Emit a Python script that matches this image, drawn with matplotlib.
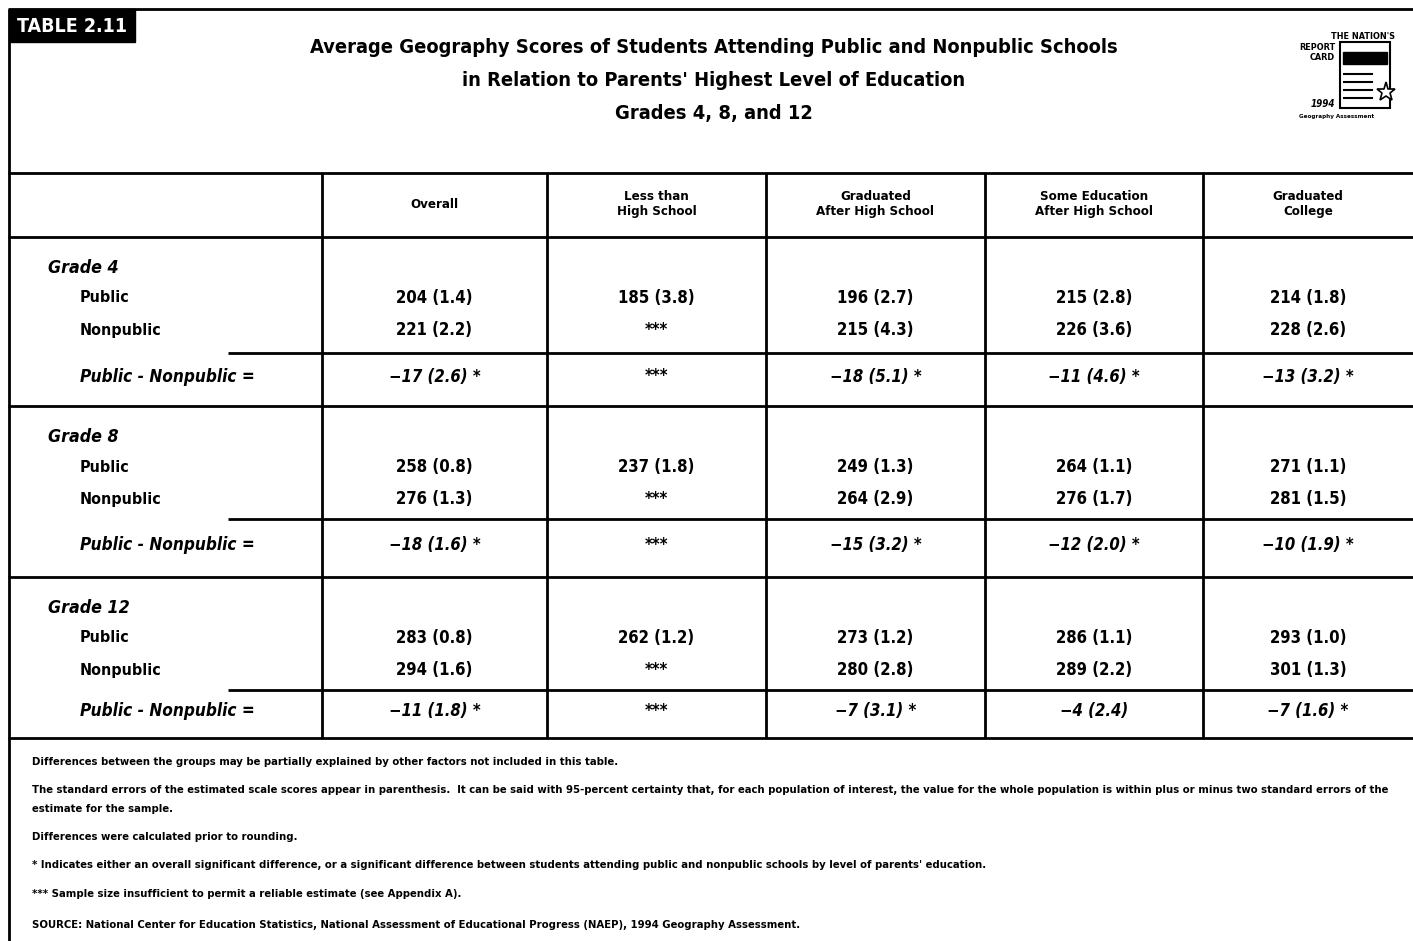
# ----- Table 2.11: Geography scores, public vs nonpublic -----
import matplotlib.pyplot as plt
from matplotlib.patches import Rectangle

plt.rcParams['font.family'] = ['DejaVu Sans']
plt.rcParams['font.stretch'] = 'condensed'

# ----- Data -----
columns = ["Overall", "Less than\nHigh School", "Graduated\nAfter High School",
           "Some Education\nAfter High School", "Graduated\nCollege"]
grades = ["Grade 4", "Grade 8", "Grade 12"]

public = [
    ["204 (1.4)", "185 (3.8)", "196 (2.7)", "215 (2.8)", "214 (1.8)"],
    ["258 (0.8)", "237 (1.8)", "249 (1.3)", "264 (1.1)", "271 (1.1)"],
    ["283 (0.8)", "262 (1.2)", "273 (1.2)", "286 (1.1)", "293 (1.0)"],
]
nonpublic = [
    ["221 (2.2)", "***", "215 (4.3)", "226 (3.6)", "228 (2.6)"],
    ["276 (1.3)", "***", "264 (2.9)", "276 (1.7)", "281 (1.5)"],
    ["294 (1.6)", "***", "280 (2.8)", "289 (2.2)", "301 (1.3)"],
]
difference = [
    ["\u221217 (2.6) *", "***", "\u221218 (5.1) *", "\u221211 (4.6) *", "\u221213 (3.2) *"],
    ["\u221218 (1.6) *", "***", "\u221215 (3.2) *", "\u221212 (2.0) *", "\u221210 (1.9) *"],
    ["\u221211 (1.8) *", "***", "\u22127 (3.1) *", "\u22124 (2.4)", "\u22127 (1.6) *"],
]

title_lines = ["Average Geography Scores of Students Attending Public and Nonpublic Schools",
               "in Relation to Parents' Highest Level of Education",
               "Grades 4, 8, and 12"]

notes = [
    "Differences between the groups may be partially explained by other factors not included in this table.",
    "The standard errors of the estimated scale scores appear in parenthesis.  It can be said with 95-percent certainty that, for each population of interest, the value for the whole population is within plus or minus two standard errors of the",
    "estimate for the sample.",
    "Differences were calculated prior to rounding.",
    "* Indicates either an overall significant difference, or a significant difference between students attending public and nonpublic schools by level of parents' education.",
    "*** Sample size insufficient to permit a reliable estimate (see Appendix A).",
    "SOURCE: National Center for Education Statistics, National Assessment of Educational Progress (NAEP), 1994 Geography Assessment.",
]

# ----- Layout (pixel coords) -----
W, H = 1413, 941
col_edges = [322, 547, 766, 985, 1203, W]
block_top = [237, 406, 577]
block_sep = [353, 519, 690]
block_bot = [406, 577, 738]

fig = plt.figure(figsize=(W / 100, H / 100), dpi=100)
ax = fig.add_axes([0, 0, 1, 1])
ax.set_xlim(0, W)
ax.set_ylim(H, 0)
ax.axis('off')

lw = 2.0
def hline(y, x0=8, x1=W, w=lw):
    ax.plot([x0, x1], [y, y], color='black', lw=w, solid_capstyle='butt')

def vline(x, y0, y1, w=lw):
    ax.plot([x, x], [y0, y1], color='black', lw=w, solid_capstyle='butt')

# frame
hline(9)
vline(9, 9, H)
hline(173)
hline(237)
for x in col_edges[:-1]:
    vline(x, 173, 738)
for ys, yb in zip(block_sep, block_bot):
    hline(ys, 228)
    hline(yb)

# table label
ax.add_patch(Rectangle((9, 9), 126, 33, color='black'))
ax.text(72, 26, "TABLE 2.11", color='white', fontsize=14, fontweight='bold',
        ha='center', va='center')

# title
for i, t in enumerate(title_lines):
    ax.text(714, 47 + 33 * i, t, fontsize=14.4, fontweight='bold', ha='center', va='center')

# logo
ax.text(1395, 36, "THE NATION'S", fontsize=6.5, fontweight='bold', ha='right', va='center')
ax.text(1335, 47, "REPORT", fontsize=6.5, fontweight='bold', ha='right', va='center')
ax.text(1335, 57, "CARD", fontsize=6.5, fontweight='bold', ha='right', va='center')
ax.text(1335, 104, "1994", fontsize=7, fontweight='bold', fontstyle='italic', ha='right', va='center')
ax.text(1337, 116, "Geography Assessment", fontsize=4.5, fontweight='bold', ha='center', va='center')
ax.add_patch(Rectangle((1340, 42), 50, 66, fill=False, lw=1.5))
ax.add_patch(Rectangle((1343, 52), 44, 12, color='black'))
for yy in [74, 82, 90, 98]:
    ax.plot([1344, 1372], [yy, yy], color='black', lw=1.5)
ax.plot([1386], [92], marker='*', ms=14, color='white', mec='black', mew=1.2)

# column headers
for j, c in enumerate(columns):
    cx = (col_edges[j] + col_edges[j + 1]) / 2
    ax.text(cx, 204, c, fontsize=9.5, fontweight='bold', ha='center', va='center',
            linespacing=1.15)

# body
for g in range(3):
    y0 = block_top[g]
    ax.text(48, y0 + 31, grades[g], fontsize=12.8, fontweight='bold', fontstyle='italic',
            ha='left', va='center')
    ax.text(80, y0 + 61, "Public", fontsize=11.5, fontweight='bold', ha='left', va='center')
    ax.text(80, y0 + 93, "Nonpublic", fontsize=11.5, fontweight='bold', ha='left', va='center')
    yd = (block_sep[g] + block_bot[g]) / 2 - 3
    ax.text(80, yd, "Public - Nonpublic =", fontsize=12.3, fontweight='bold',
            fontstyle='italic', ha='left', va='center')
    for j in range(5):
        cx = (col_edges[j] + col_edges[j + 1]) / 2
        ax.text(cx, y0 + 61, public[g][j], fontsize=12, fontweight='bold',
                ha='center', va='center')
        ax.text(cx, y0 + 93, nonpublic[g][j], fontsize=12, fontweight='bold',
                ha='center', va='center')
        ax.text(cx, yd, difference[g][j], fontsize=12, fontweight='bold',
                fontstyle='italic', ha='center', va='center')

# footnotes
note_y = [762, 790, 809, 837, 865, 894, 925]
for t, y in zip(notes, note_y):
    ax.text(32, y, t, fontsize=8.1, fontweight='bold', ha='left', va='center')

fig.savefig("out.png", dpi=100)
